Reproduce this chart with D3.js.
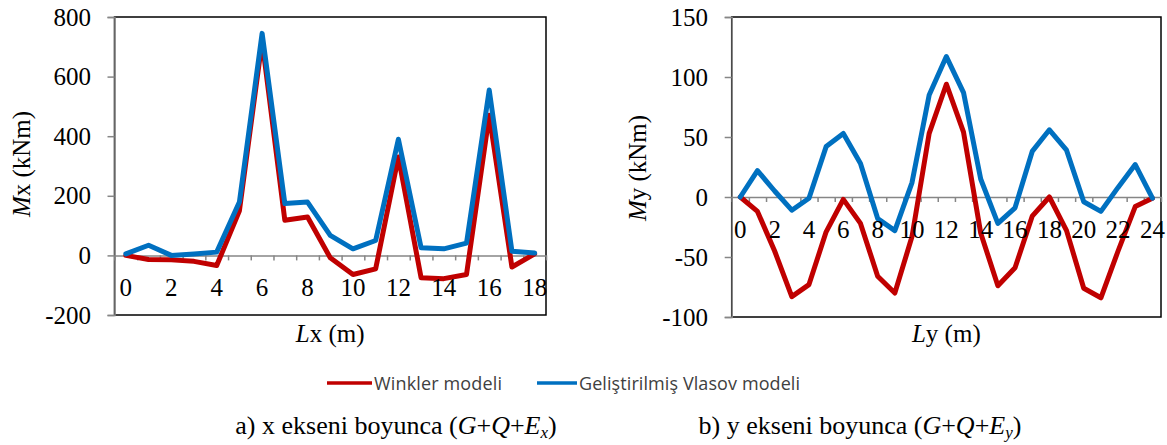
<!DOCTYPE html>
<html>
<head>
<meta charset="utf-8">
<script src="https://cdn.jsdelivr.net/npm/d3@7"></script>
<style>
  body { margin: 0; background: #fff; }
  svg text { font-family: "Liberation Serif", "Times New Roman", serif; }
</style>
</head>
<body>
<div id="chart"></div>
<script>
// ---- data ----
const lxCats = [0, 1, 2, 3, 4, 5, 6, 7, 8, 9, 10, 11, 12, 13, 14, 15, 16, 17, 18];
const mxWinkler = [0, -14, -15, -20, -34, 150, 720, 118, 129, -8, -64, -45, 330, -75, -78, -64, 470, -39, 5];
const mxVlasov = [5, 34, 0, 5, 11, 179, 745, 174, 179, 67, 22, 50, 390, 26, 22, 41, 555, 14, 8];
const mxTicks = [-200, 0, 200, 400, 600, 800];

const lyCats = [0, 1, 2, 3, 4, 5, 6, 7, 8, 9, 10, 11, 12, 13, 14, 15, 16, 17, 18, 19, 20, 21, 22, 23, 24];
const myWinkler = [0, -12, -45, -83, -73, -29, -2, -22, -66, -80, -33, 53, 94, 54, -30, -74, -59, -16, 0, -28, -76, -84, -45, -8, -1];
const myVlasov = [0, 22, 5, -11, -1, 42, 53, 28, -18, -28, 12, 85, 117, 87, 15, -22, -9, 38, 56, 39, -4, -12, 8, 27, -1];
const myTicks = [-100, -50, 0, 50, 100, 150];

const seriesNames = ['Winkler modeli', 'Geliştirilmiş Vlasov modeli'];
const seriesColors = ['#C00000', '#0070C0'];

const serif = '"Liberation Serif", "Times New Roman", serif';

///////// Initialization //////////
const width = 1167;
const height = 445;

const svg = d3
  .select('#chart')
  .append('svg')
  .attr('width', width)
  .attr('height', height);

function drawPanel(opts) {
  const { left, top, right, bottom, cats, series, yDomain, yTicks, yTitle, xTitle, labelRight, titleX, titleY } = opts;
  const n = cats.length;

  // categories sit between tick marks, like Excel
  const xScale = d3.scaleLinear().domain([-0.5, n - 0.5]).range([left, right]);
  const yScale = d3.scaleLinear().domain(yDomain).range([bottom, top]);

  const g = svg.append('g');

  // plot area border (black)
  g.append('rect')
    .attr('x', left)
    .attr('y', top)
    .attr('width', right - left)
    .attr('height', bottom - top)
    .attr('fill', 'none')
    .attr('stroke', '#000')
    .attr('stroke-width', 1.5);

  // y axis
  const yAxis = d3.axisLeft(yScale).tickValues(yTicks).tickSize(7).tickPadding(left - labelRight - 7).tickFormat(d3.format('d'));
  const yAxisGroup = g.append('g').attr('transform', 'translate(' + left + ',0)').call(yAxis);
  yAxisGroup.select('.domain').attr('stroke', '#868686').attr('stroke-width', 1.5);
  yAxisGroup.selectAll('.tick line').attr('stroke', '#868686').attr('stroke-width', 1.5);
  yAxisGroup.selectAll('.tick text')
    .style('font-family', serif)
    .style('font-size', '25px')
    .attr('fill', '#000')
    .text((d) => (d < 0 ? '-' + Math.abs(d) : d));

  // x axis on the zero line, tick marks at category boundaries
  const zeroY = yScale(0);
  const xAxis = d3.axisBottom(xScale)
    .tickValues(d3.range(n + 1).map((k) => k - 0.5))
    .tickSizeInner(5)
    .tickSizeOuter(0)
    .tickFormat('');
  const xAxisGroup = g.append('g').attr('transform', 'translate(0,' + zeroY + ')').call(xAxis);
  xAxisGroup.select('.domain').attr('stroke', '#868686').attr('stroke-width', 1.5);
  xAxisGroup.selectAll('.tick line').attr('stroke', '#868686').attr('stroke-width', 1.5);

  // lines
  const line = d3.line()
    .x((d, i) => xScale(i))
    .y((d) => yScale(d));

  series.forEach((values, i) => {
    g.append('path')
      .datum(values)
      .attr('fill', 'none')
      .attr('stroke', seriesColors[i])
      .attr('stroke-width', 5)
      .attr('stroke-linejoin', 'round')
      .attr('stroke-linecap', 'round')
      .attr('d', line);
  });

  // x labels, every second category
  g.selectAll('.xlab')
    .data(cats.filter((c, i) => i % 2 === 0))
    .enter()
    .append('text')
    .attr('class', 'xlab')
    .attr('x', (d) => xScale(cats.indexOf(d)))
    .attr('y', zeroY + 41)
    .attr('text-anchor', 'middle')
    .style('font-family', serif)
    .style('font-size', '25px')
    .text((d) => d);

  // y title
  const yt = g.append('text')
    .attr('transform', 'translate(' + titleX + ',' + titleY + ') rotate(-90)')
    .attr('text-anchor', 'middle')
    .style('font-family', serif)
    .style('font-size', '25px');
  yt.append('tspan').attr('font-style', 'italic').text('M');
  yt.append('tspan').text(yTitle + ' (kNm)');

  // x title
  const xt = g.append('text')
    .attr('x', (left + right) / 2)
    .attr('y', 342)
    .attr('text-anchor', 'middle')
    .style('font-family', serif)
    .style('font-size', '25px');
  xt.append('tspan').attr('font-style', 'italic').text('L');
  xt.append('tspan').text(xTitle + ' (m)');
}

drawPanel({
  left: 114.5, top: 17, right: 546, bottom: 315,
  cats: lxCats,
  series: [mxWinkler, mxVlasov],
  yDomain: [-200, 800],
  yTicks: mxTicks,
  yTitle: 'x', xTitle: 'x',
  labelRight: 91, titleX: 30, titleY: 164
});

drawPanel({
  left: 731.7, top: 17, right: 1161, bottom: 317,
  cats: lyCats,
  series: [myWinkler, myVlasov],
  yDomain: [-100, 150],
  yTicks: myTicks,
  yTitle: 'y', xTitle: 'y',
  labelRight: 708, titleX: 646, titleY: 168
});

////// Legend /////
const legendItems = [
  { x1: 327, x2: 372, tx: 374, tw: 128 },
  { x1: 537, x2: 577, tx: 579, tw: 221 }
];
legendItems.forEach((item, i) => {
  svg.append('line')
    .attr('x1', item.x1).attr('x2', item.x2)
    .attr('y1', 383).attr('y2', 383)
    .attr('stroke', seriesColors[i])
    .attr('stroke-width', 3.5);
  svg.append('text')
    .attr('x', item.tx)
    .attr('y', 390)
    .attr('fill', '#404040')
    .attr('textLength', item.tw)
    .attr('lengthAdjust', 'spacing')
    .style('font-family', '"Open Sans", sans-serif')
    .style('font-size', '18px')
    .text(seriesNames[i]);
});

////// Captions /////
function caption(cx, letter, axis) {
  const t = svg.append('text')
    .attr('x', cx)
    .attr('y', 434)
    .attr('text-anchor', 'middle')
    .style('font-family', serif)
    .style('font-size', '26px');
  t.append('tspan').text(letter + ') ' + axis + ' ekseni boyunca (');
  t.append('tspan').attr('font-style', 'italic').text('G');
  t.append('tspan').text('+');
  t.append('tspan').attr('font-style', 'italic').text('Q');
  t.append('tspan').text('+');
  t.append('tspan').attr('font-style', 'italic').text('E');
  t.append('tspan').attr('font-style', 'italic').style('font-size', '17px').attr('dy', 4).text(axis);
  t.append('tspan').attr('dy', -4).text(')');
}
caption(396, 'a', 'x');
caption(860, 'b', 'y');
</script>
</body>
</html>
